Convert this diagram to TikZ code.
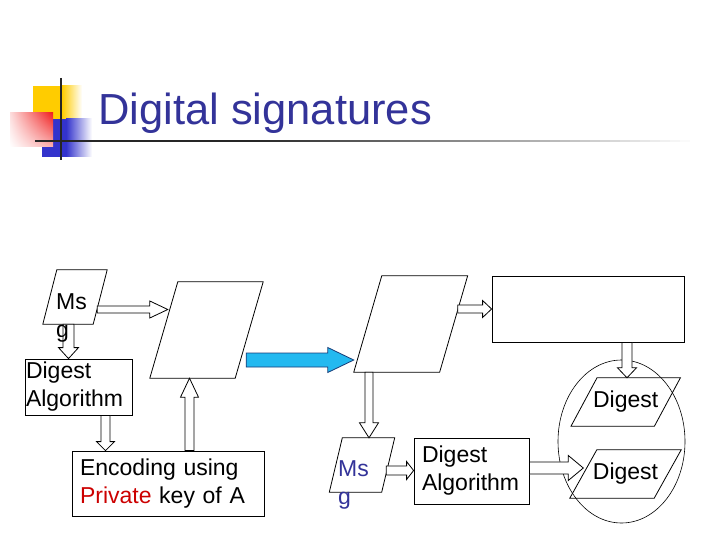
\documentclass[tikz,border=0pt]{standalone}
\usepackage{fontspec}
\setmainfont{Liberation Sans}
\usetikzlibrary{calc,shapes.geometric,shadings}
\definecolor{titleblue}{RGB}{51,51,153}
\definecolor{keyred}{RGB}{204,0,0}
\definecolor{flowblue}{RGB}{35,185,240}
\definecolor{flowedge}{RGB}{25,60,120}
\definecolor{cornergold}{RGB}{255,204,0}
\definecolor{cornerred}{RGB}{240,30,30}
\definecolor{cornerblue}{RGB}{51,51,204}
\newcommand{\bodyfont}{\fontsize{23}{28}\selectfont}
\tikzset{
  outline/.style={draw=black, line width=0.8pt},
  hollow/.style={outline, fill=white},
  flow/.style={draw=flowedge, line width=0.8pt, fill=flowblue},
  boxnode/.style={outline, rectangle, inner ysep=0pt, align=left, font=\bodyfont},
  msgtext/.style={font=\bodyfont, anchor=north west, inner sep=0pt, align=left},
  ring/.style={draw=black, line width=0.6pt, ellipse, inner sep=0pt}
}
% slanted box: [options]{name}{centre}{width}{height}{skew}{text}
\newcommand{\slantbox}[7][]{%
  \node[inner sep=0pt, minimum width=#4, minimum height=#5, #1] (#2) at (#3) {#7};
  \draw[outline] ($(#2.south west)+(-#6/2,0)$) -- ($(#2.north west)+(#6/2,0)$)
    -- ($(#2.north east)+(#6/2,0)$) -- ($(#2.south east)+(-#6/2,0)$) -- cycle;}
% block arrow: [style]{tail}{tip}{half shaft}{half head}{head length}
\newcommand{\blockarrow}[6][hollow]{%
  \coordinate (tail) at (#2);
  \coordinate (tip) at (#3);
  \coordinate (neck) at ($(tip)!#6pt!(tail)$);
  \path[#1] ($(tail)!#4pt!90:(tip)$) -- ($(neck)!#4pt!90:(tip)$)
    -- ($(neck)!#5pt!90:(tip)$) -- (tip) -- ($(neck)!#5pt!-90:(tip)$)
    -- ($(neck)!#4pt!-90:(tip)$) -- ($(tail)!#4pt!-90:(tip)$) -- cycle;}

\begin{document}
\begin{tikzpicture}[x=1pt, y=-1pt]
  \useasboundingbox (0,0) rectangle (720,540);
  % Title corner squares
  \fill[cornergold] (33,86) rectangle (62,120);
  \shade[left color=cornergold, right color=white] (62,86) rectangle (82,120);
  \fill[cornerblue] (42,119) rectangle (66,157);
  \shade[left color=cornerblue, right color=white] (66,119) rectangle (92,157);
  \shade[upper left=cornerred!15, upper right=cornerred, lower left=white,
    lower right=cornerred!35] (10,113) rectangle (53,147);
  % Rules
  \draw[line width=1.6pt, black!85] (61,78) -- (61,160);
  \fill[black!85] (35,139.8) rectangle (250.2,142.4);
  \foreach \i in {0,...,43} {
    \pgfmathsetmacro{\fadepct}{85*(1-\i/44)}
    \fill[black!\fadepct] (250+10*\i,139.8) rectangle (260.2+10*\i,142.4);
  }
  % Title
  \node[font=\fontsize{43.5}{50}\selectfont, text=titleblue, anchor=base west,
    inner sep=0pt] (title) at (98,125) {Digital signatures};

  % Sender
  \slantbox{msgA}{75,297}{50}{54}{14}{}
  \slantbox{signedA}{206.5,330}{85}{96}{28}{}
  \node[boxnode, inner xsep=1pt, text width=105pt, minimum height=56pt] (algoA)
    at (78.5,387) {Digest\\Algorithm};
  \node[boxnode, inner xsep=8pt, text width=176pt, minimum height=65pt] (encA)
    at (168,483.5) {Encoding using\\\textcolor{keyred}{Private} key of A};

  % Receiver
  \slantbox{signedB}{410.7,324}{85.5}{96}{28}{}
  \node[outline, rectangle, inner sep=0pt, minimum width=192pt, minimum height=66pt]
    (checkbox) at (588,309) {};
  \slantbox{msgB}{362,465}{52}{54}{13}{}
  \node[boxnode, inner xsep=8pt, text width=99pt, minimum height=66pt] (algoB)
    at (471.5,471) {Digest\\Algorithm};
  \node[ring, minimum width=127pt, minimum height=163pt] (ring) at (621.5,441.5) {};
  \slantbox[font=\bodyfont]{digestA}{625.7,402}{83}{48}{26}{Digest}
  \slantbox[font=\bodyfont]{digestB}{625.5,474}{84}{48}{27}{Digest}

  % Arrows
  \blockarrow{$(msgA.east)+(-3,12.5)$}{$(signedA.west)+(4,-20.5)$}{3.5}{8.5}{18}
  \blockarrow{$(msgA.south)+(-6.5,0)$}{$(algoA.north)+(-10,0)$}{5.5}{10}{11}
  \blockarrow{$(algoA.south)+(27,0)$}{$(encA.north)+(-62.5,0)$}{4.5}{9}{9}
  \blockarrow{$(encA.north)+(21.5,0)$}{$(signedA.south)+(-17,0)$}{4.5}{9}{19}
  \blockarrow[flow]{$(signedA.east)+(-3,30)$}{$(signedB.west)+(-14,36)$}{7}{12.5}{26}
  \blockarrow{$(signedB.south)+(-41.7,0)$}{$(msgB.north)+(7,0)$}{4}{9.5}{15}
  \blockarrow{$(signedB.east)+(4,-15)$}{checkbox.west}{4}{8.5}{9}
  \blockarrow{$(checkbox.south)+(39,0)$}{$(digestA.north)+(1.3,0)$}{5}{9.5}{10}
  \blockarrow{$(msgB.east)+(-2,5.5)$}{$(algoB.west)+(0,-0.5)$}{4.5}{9}{7}
  \blockarrow{$(algoB.east)+(0,-3)$}{$(digestB.west)+(0,-6)$}{6}{12.5}{15}

  % Message texts
  \node[msgtext] (msgAtext) at (56,293.5) {Ms\\g};
  \node[msgtext, text=titleblue] (msgBtext) at (338,460.5) {Ms\\g};
\end{tikzpicture}
\end{document}
